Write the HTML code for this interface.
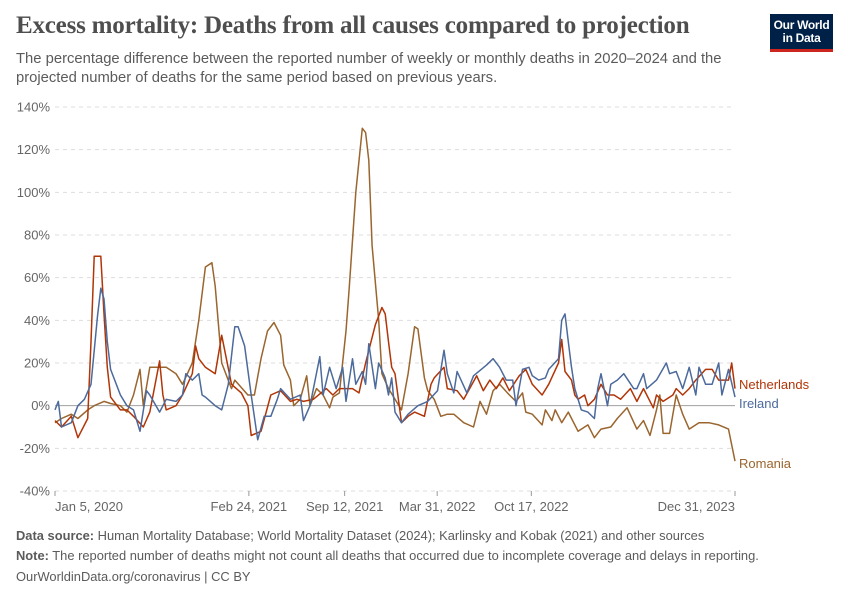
<!DOCTYPE html>
<html><head><meta charset="utf-8"><style>
body{margin:0;background:#fff;font-family:"Liberation Sans",sans-serif;}
#wrap{position:relative;width:850px;height:600px;overflow:hidden;}
.t{position:absolute;white-space:nowrap;}
</style></head><body>
<div id="wrap">
<div class="t" style="left:16px;top:12px;font-family:'Liberation Serif',serif;font-size:25px;font-weight:bold;color:#4e4e4e;letter-spacing:-0.2px">Excess mortality: Deaths from all causes compared to projection</div>
<div class="t" style="left:16px;top:50px;font-size:14.8px;color:#5b5b5b;line-height:19px">The percentage difference between the reported number of weekly or monthly deaths in 2020–2024 and the<br>projected number of deaths for the same period based on previous years.</div>
<div style="position:absolute;left:770px;top:14px;width:63px;height:38px;background:#002147;border-bottom:3px solid #ce261e;color:#fff;font-size:12px;font-weight:bold;text-align:center;line-height:13px;padding-top:5px;box-sizing:border-box;letter-spacing:-0.3px">Our World<br>in Data</div>
<svg id="chart" width="850" height="600" style="position:absolute;left:0;top:0"></svg>
<div class="t" style="left:16px;top:528px;font-size:12.9px;color:#5b5b5b"><b>Data source:</b> Human Mortality Database; World Mortality Dataset (2024); Karlinsky and Kobak (2021) and other sources</div>
<div class="t" style="left:16px;top:548px;font-size:12.9px;color:#5b5b5b"><b>Note:</b> The reported number of deaths might not count all deaths that occurred due to incomplete coverage and delays in reporting.</div>
<div class="t" style="left:16px;top:569px;font-size:12.9px;color:#5b5b5b">OurWorldinData.org/coronavirus | CC BY</div>
</div>
<script>
const yTicks=[-40,-20,0,20,40,60,80,100,120,140];
const xTickWeeks=[0,59.3,88.6,116.9,145.7,208];
const xTickLabels=["Jan 5, 2020","Feb 24, 2021","Sep 12, 2021","Mar 31, 2022","Oct 17, 2022","Dec 31, 2023"];
const nlWeeks=[0,2,5,7,10,11,12,14,15,16,17,20,22,24,27,29,32,33,34,37,39,42,43,44,46,49,51,54,57,59,60,63,66,69,72,74,76,79,83,85,87,89,91,93,95,98,100,101,102,103,104,106,108,110,113,115,116,119,120,123,125,129,131,133,135,137,139,142,144,146,149,151,154,155,156,158,159,160,162,163,165,167,169,171,173,176,178,180,183,184,186,189,190,192,194,196,199,201,203,206,207,208];
const nlValues=[-7,-10,-5,-15,-6,30,70,70,43,18,4,-2,-2,-5,-10,-3,21,5,-2,0,5,15,28,22,18,15,33,10,6,0,-14,-12,5,7,2,3,2,3,8,5,8,8,8,6,20,38,46,43,30,18,15,-8,-5,-3,-5,10,13,18,8,7,3,14,7,12,8,13,7,14,17,10,5,10,20,31,16,12,5,3,5,0,3,10,5,5,3,8,2,8,-1,5,2,5,8,5,8,12,17,17,12,12,20,8];
const ieWeeks=[0,1,2,5,7,9,11,13,14,15,16,17,20,22,24,26,28,29,32,34,37,39,40,42,44,45,46,49,51,53,55,56,58,60,62,64,66,68,69,72,75,76,78,81,82,84,86,88,89,91,92,94,95,96,98,99,101,102,103,104,106,108,111,114,117,119,120,122,123,126,128,132,134,136,138,140,141,143,145,146,148,150,151,154,155,156,157,158,159,161,163,165,166,167,169,170,172,174,177,178,180,181,184,187,188,190,192,194,196,197,199,201,203,204,206,208];
const ieValues=[-2,2,-10,-8,0,3,10,42,55,50,30,17,5,0,-2,-12,7,5,-3,3,2,5,15,12,15,5,4,0,-2,10,37,37,28,5,-16,-5,-5,3,8,3,5,-7,0,23,5,18,8,18,2,22,10,16,10,29,8,20,13,5,13,-3,-8,-4,0,2,7,26,15,6,16,6,14,19,22,18,12,12,0,17,18,14,12,13,17,22,40,43,30,18,8,-2,-3,-6,8,15,0,10,12,15,8,8,15,8,12,20,15,16,8,18,5,18,10,10,20,5,17,4];
const roWeeks=[0,2,5,7,10,12,15,17,20,22,24,26,27,29,32,34,37,39,42,44,46,48,49,51,54,55,59,61,63,65,67,69,70,72,73,75,77,78,80,82,84,85,87,89,90,92,94,95,96,97,99,100,102,106,108,110,111,113,114,116,118,120,122,125,128,130,132,134,136,139,141,143,144,146,149,150,152,153,155,157,160,163,165,167,170,172,175,178,180,182,184,185,186,188,190,192,194,197,200,203,206,208];
const roValues=[-8,-6,-4,-6,-2,0,2,1,0,-3,5,17,0,18,18,18,15,10,20,40,65,67,56,20,8,12,5,5,22,35,39,33,19,12,0,3,14,0,8,5,-1,4,6,35,55,100,130,128,115,75,40,15,8,-2,15,37,36,13,7,3,-5,-4,-4,-8,-10,2,-4,7,10,5,2,6,-3,-4,-9,-2,-7,-2,-8,-3,-12,-9,-15,-11,-10,-6,-1,-11,-7,-14,-2,5,-13,-13,5,-4,-11,-8,-8,-9,-11,-26];
const NS="http://www.w3.org/2000/svg";
const svg=document.getElementById('chart');
const X0=55,X1=735,Y0=491,Y1=107;
const xs=w=>X0+w/208*(X1-X0);
const ys=v=>Y0-(v+40)/180*(Y0-Y1);
function mk(t,a){const e=document.createElementNS(NS,t);for(const k in a)e.setAttribute(k,a[k]);svg.appendChild(e);return e;}
yTicks.forEach(v=>{
  const l=mk('line',{x1:X0,x2:X1,y1:ys(v),y2:ys(v),stroke:v===0?'#a0a0a0':'#dddddd','stroke-dasharray':v===0?'':'4,4','stroke-width':1});
  
  
  const t=mk('text',{x:50,y:ys(v)+4.5,'text-anchor':'end','font-size':13,fill:'#666','font-family':'Liberation Sans, sans-serif'});
  t.textContent=v+'%';
  
  
});
xTickWeeks.forEach((w,i)=>{
  const x=xs(w);
  const l=mk('line',{x1:x,x2:x,y1:491,y2:496,stroke:'#999'});
  
  
  const t=mk('text',{x:x,y:511,'text-anchor':i===0?'start':(i===xTickWeeks.length-1?'end':'middle'),'font-size':13,fill:'#666','font-family':'Liberation Sans, sans-serif'});
  t.textContent=xTickLabels[i];
  
  
});
function series(ws,vs,col,name,label,ly){
  const d=ws.map((w,i)=>(i?'L':'M')+xs(w).toFixed(1)+','+ys(vs[i]).toFixed(1)).join('');
  const p=mk('path',{d:d,fill:'none',stroke:col,'stroke-width':1.5,'stroke-linejoin':'round'});
  
  
  const t=mk('text',{x:739,y:ly,'font-size':13,fill:col,'font-family':'Liberation Sans, sans-serif'});
  t.textContent=label;
  
  
}
series(roWeeks,roValues,'#9a652e','romania','Romania',468);
series(nlWeeks,nlValues,'#b13507','netherlands','Netherlands',389);
series(ieWeeks,ieValues,'#4c6a9c','ireland','Ireland',408);
</script>
</body></html>
